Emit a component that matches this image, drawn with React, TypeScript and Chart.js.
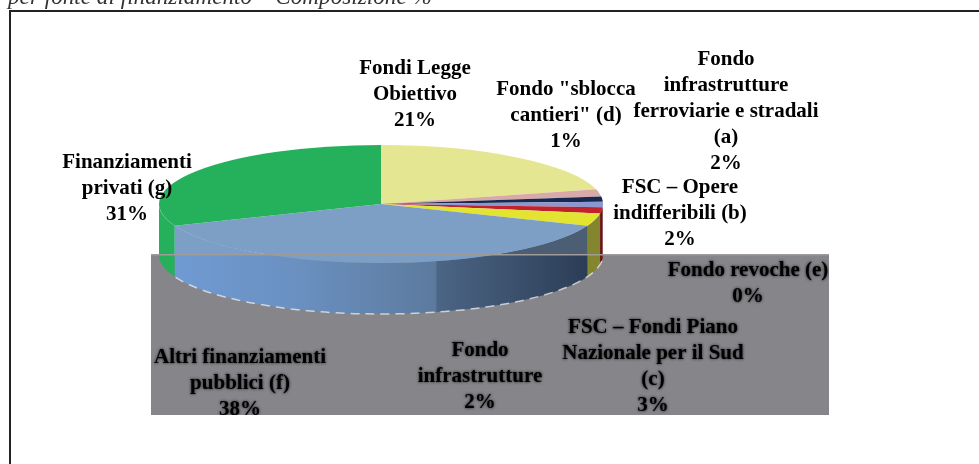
import React, { useEffect, useRef } from "react";
import { Chart, registerables } from "chart.js";

Chart.register(...registerables);

const categories = [
  "Fondi Legge Obiettivo",
  'Fondo "sblocca cantieri" (d)',
  "Fondo infrastrutture ferroviarie e stradali (a)",
  "FSC – Opere indifferibili (b)",
  "FSC – Fondi Piano Nazionale per il Sud (c)",
  "Fondo infrastrutture",
  "Altri finanziamenti pubblici (f)",
  "Finanziamenti privati (g)",
];
const values = [21, 2, 1.4, 1.5, 1.7, 3.4, 38, 31];
const topColors = ["#e4e692", "#d9a9a9", "#14294f", "#8d96cf", "#c0232b", "#e3e332", "#7d9fc6", "#25b15c"];
const wallColors = ["#a9ab60", "#a07a7a", "#0e1d38", "#8d96cf", "#6e1212", "#83862f", "#4a6585", "#25b15c"];

const labelLines = [
  ["Fondi Legge", "Obiettivo", "21%"],
  ['Fondo "sblocca', 'cantieri" (d)', "1%"],
  ["Fondo", "infrastrutture", "ferroviarie e stradali", "(a)", "2%"],
  ["FSC – Opere", "indifferibili (b)", "2%"],
  ["Fondo revoche (e)", "0%"],
  ["FSC – Fondi Piano", "Nazionale per il Sud", "(c)", "3%"],
  ["Fondo", "infrastrutture", "2%"],
  ["Altri finanziamenti", "pubblici (f)", "38%"],
  ["Finanziamenti", "privati (g)", "31%"],
];
const labelAnchors = [
  [415, 69], [566, 90], [726, 60], [680, 188], [748, 271], [653, 328], [480, 351], [240, 358], [127, 163],
];
const titleText = "per fonte di finanziamento – Composizione %";

const CX = 381, CY = 204, RX = 222, RY = 59, DEPTH = 51, GRAY_TOP = 254;

const pie3d = {
  id: "pie3d",
  beforeDraw(chart: any) {
    const c = chart.ctx;
    c.save();
    c.fillStyle = "#ffffff";
    c.fillRect(0, 0, chart.width, chart.height);
    c.fillStyle = "#232323";
    c.fillRect(9, 10, 970, 2);
    c.fillRect(9, 10, 2, 454);
    c.fillStyle = "#85858a";
    c.fillRect(151, GRAY_TOP, 678, 161);
    c.fillStyle = "#333";
    c.font = "italic 23.2px 'Liberation Serif'";
    c.textBaseline = "alphabetic";
    c.textAlign = "left";
    c.fillText(titleText, 8, 4);
    c.restore();
  },
  beforeDatasetsDraw(chart: any) {
    const c = chart.ctx;
    const arcs = chart.getDatasetMeta(0).data;
    const R = arcs[0].outerRadius;
    c.save();
    arcs.forEach((arc: any, i: number) => {
      const a0 = Math.max(arc.startAngle, 0);
      const a1 = Math.min(arc.endAngle, Math.PI);
      let s = arc.startAngle, e = arc.endAngle;
      const twoPi = Math.PI * 2;
      if (e > twoPi) { s = Math.max(s - twoPi, 0); e = Math.min(e - twoPi, Math.PI); }
      else { s = a0; e = a1; }
      if (e <= s) return;
      const wall = () => {
        c.beginPath();
        c.ellipse(CX, CY, RX, RY, 0, s, e);
        c.ellipse(CX, CY + DEPTH, RX, RY, 0, e, s, true);
        c.closePath();
      };
      wall();
      if (i === 6) {
        const g = c.createLinearGradient(177, 0, 587, 0);
        g.addColorStop(0, "#6f9ad2");
        g.addColorStop(0.3, "#6a90c0");
        g.addColorStop(0.63, "#5c7a9e");
        g.addColorStop(0.635, "#4b6585");
        g.addColorStop(1, "#2c3d56");
        c.fillStyle = g;
        c.fill();
        c.save();
        c.beginPath();
        c.rect(0, 0, chart.width, GRAY_TOP);
        c.clip();
        wall();
        c.fillStyle = "#7d9fc6";
        c.fill();
        c.beginPath();
        c.rect(CX, 0, chart.width, GRAY_TOP);
        c.clip();
        wall();
        c.fillStyle = "#4b5e74";
        c.fill();
        c.restore();
      } else {
        c.fillStyle = wallColors[i];
        c.fill();
      }
    });
    c.strokeStyle = "rgba(235,235,240,0.75)";
    c.lineWidth = 1.5;
    c.setLineDash([9, 6]);
    c.beginPath();
    c.ellipse(CX, CY + DEPTH, RX, RY, 0, 0.1, Math.PI - 0.38);
    c.stroke();
    c.setLineDash([]);
    c.restore();
    c.save();
    c.translate(CX, CY);
    c.scale(RX / R, RY / R);
    c.translate(-arcs[0].x, -arcs[0].y);
  },
  afterDatasetsDraw(chart: any) {
    const c = chart.ctx;
    c.restore();
    c.save();
    c.fillStyle = "#a09a98";
    c.fillRect(151, GRAY_TOP, 678, 1.5);
    c.restore();
  },
  afterDraw(chart: any) {
    const c = chart.ctx;
    c.save();
    c.textAlign = "center";
    c.textBaseline = "middle";
    c.font = "bold 21px 'Liberation Serif'";
    c.fillStyle = "#000";
    labelLines.forEach((lines, i) => {
      const [x, y] = labelAnchors[i];
      lines.forEach((line, j) => {
        const ly = y + j * 26;
        const onGray = ly > GRAY_TOP;
        c.save();
        if (onGray) {
          c.beginPath();
          c.rect(151, GRAY_TOP, 678, 161);
          c.clip();
          c.shadowColor = "rgba(0,0,0,0.8)";
          c.shadowBlur = 3;
        }
        c.fillText(line, x, ly);
        c.restore();
      });
    });
    c.restore();
  },
};

export default function App() {
  const ref = useRef<HTMLCanvasElement>(null);
  useEffect(() => {
    document.body.style.margin = "0";
    const chart = new Chart(ref.current as HTMLCanvasElement, {
      type: "pie",
      data: {
        labels: categories,
        datasets: [{ data: values, backgroundColor: topColors, borderWidth: 0, clip: false } as any],
      },
      options: {
        responsive: false,
        animation: false,
        layout: { padding: 0 },
        plugins: { legend: { display: false }, tooltip: { enabled: false } },
      },
      plugins: [pie3d],
    });
    return () => chart.destroy();
  }, []);
  return <canvas ref={ref} width={979} height={464} style={{ display: "block" }} />;
}
